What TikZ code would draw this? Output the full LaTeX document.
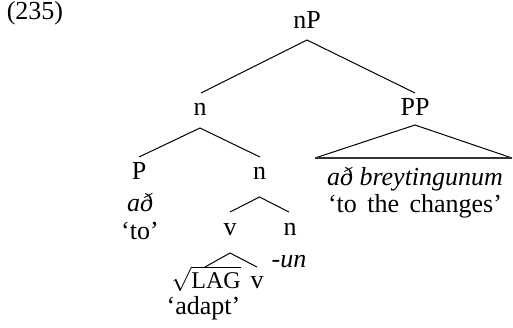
\documentclass[tikz,border=0pt]{standalone}
\usepackage{amsmath}
\usepackage{fontspec}
\setmainfont{Liberation Serif}
\newcommand{\widesp}{\spaceskip=0.4em\relax}
\begin{document}
\begin{tikzpicture}[x=0.5pt,y=-0.5pt,
  lbl/.style={inner sep=0pt, anchor=base, font=\fontsize{13}{15}\selectfont},
  branch/.style={line width=0.5pt},
  roof/.style={line width=0.75pt, draw=black!80}]
\useasboundingbox (0,0) rectangle (513,327);
% labels
\node[lbl] (ex) at (35,19) {(235)};
\node[lbl] (nP) at (307,28) {nP};
\node[lbl] (n1) at (200,115) {n};
\node[lbl] (PP) at (415,115) {PP};
\node[lbl] (P) at (139,179) {P};
\node[lbl] (n2) at (259.5,179) {n};
\node[lbl] (ad) at (140,211.5) {\itshape að};
\node[lbl] (to) at (140,239) {‘to’};
\node[lbl] (breyt) at (415,185) {\itshape að breytingunum};
\node[lbl] (changes) at (415,212) {\widesp ‘to the changes’};
\node[lbl] (v1) at (230,235.5) {v};
\node[lbl] (n3) at (290,235.5) {n};
\node[lbl] (un) at (289,267) {\itshape -un};
\node[lbl] (root) at (206,288) {$\sqrt{\mbox{\fontsize{12}{13}\selectfont LAG}}$};
\node[lbl] (v2) at (257,288) {v};
\node[lbl] (adapt) at (203.5,314) {‘adapt’};
% branch points
\coordinate (nP-s) at (307,40);
\coordinate (n1-n) at (201,93);
\coordinate (PP-n) at (415,93);
\coordinate (n1-s) at (200,128);
\coordinate (P-n) at (139,157);
\coordinate (n2-n) at (260,157);
\coordinate (PP-s) at (415,125);
\coordinate (tri-l) at (315,158);
\coordinate (tri-r) at (512,158);
\coordinate (n2-s) at (259.5,197);
\coordinate (v1-n) at (230,212);
\coordinate (n3-n) at (289,212);
\coordinate (v1-s) at (230,253);
\coordinate (root-n) at (205,267);
\coordinate (v2-n) at (257,267);
% branches
\draw[branch] (n1-n) -- (nP-s) -- (PP-n);
\draw[branch] (P-n) -- (n1-s) -- (n2-n);
\draw[branch] (tri-l) -- (PP-s) -- (tri-r);
\draw[roof] (tri-l) -- (tri-r);
\draw[branch] (v1-n) -- (n2-s) -- (n3-n);
\draw[branch] (root-n) -- (v1-s) -- (v2-n);
\end{tikzpicture}
\end{document}
